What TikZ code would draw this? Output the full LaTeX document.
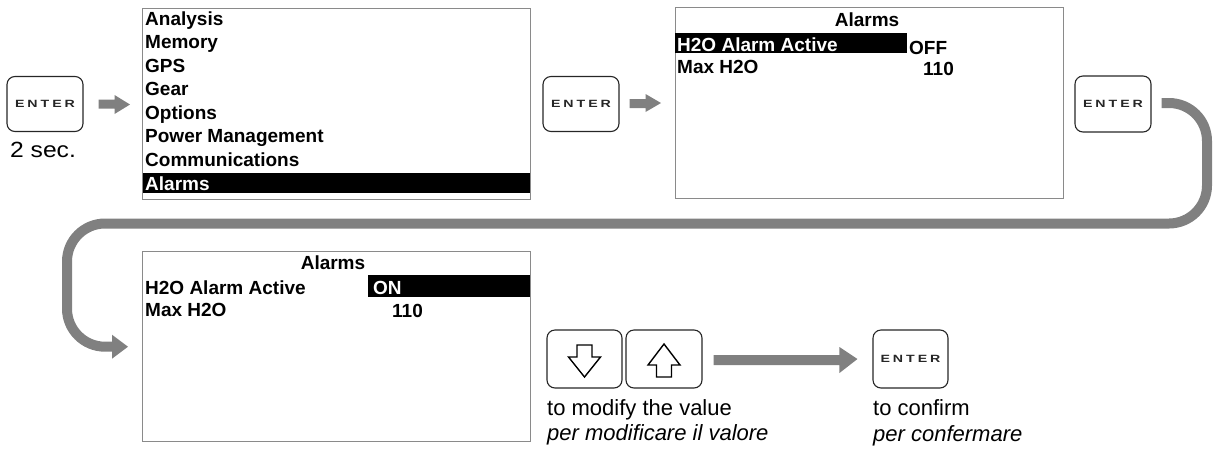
\documentclass[tikz,border=0pt]{standalone}
\usepackage{fontspec}
\setmainfont{Liberation Sans}
\newfontfamily\keyfont{Liberation Sans Bold}
\usetikzlibrary{calc}
\definecolor{arrowgray}{HTML}{808080}
\definecolor{framegray}{HTML}{8A8A8A}
\newcommand\enterlabel{\scalebox{1.35}[1]{\keyfont\fontsize{10.5}{11}\selectfont E\kern2.2pt N\kern2.2pt T\kern2.2pt E\kern2.2pt R}}
\begin{document}
\begin{tikzpicture}[x=1pt,y=-1pt,
  screen/.style={draw=framegray, line width=1.4pt, rectangle, inner sep=0pt, anchor=north west},
  key/.style={draw=black!85, line width=1.1pt, rounded corners=8pt, inner sep=0pt,
    minimum width=76, minimum height=55, text=black!85},
  menu/.style={font=\fontsize{19}{20}\selectfont\bfseries, inner sep=0pt, anchor=base west},
  menuinv/.style={menu, text=white},
  caption/.style={font=\fontsize{22}{24}\selectfont, inner sep=0pt, anchor=base west},
  captionit/.style={caption, font=\fontsize{22}{24}\selectfont\itshape},
  band/.style={draw=arrowgray, line width=10pt, rounded corners=38pt},
  blockarrow/.style={fill=arrowgray},
  hollow/.style={draw=black, line width=1.4pt, fill=white, line join=miter}
]
\useasboundingbox (0,0) rectangle (1213,448);

% ---------- top row ----------
\node[key] (k1) at (45,104) {\enterlabel};
\node[caption] (sec) at (10,157) {\scalebox{1.12}[1]{2 sec.}};

\node[screen, minimum width=388, minimum height=191] (m1) at (142,8) {};
\fill ($(m1.north west)+(1,165)$) rectangle ($(m1.north east)+(-1,185)$);
\node[menu] (a1) at (145,25) {Analysis};
\node[menu] (a2) at (145,48.6) {Memory};
\node[menu] (a3) at (145,72.1) {GPS};
\node[menu] (a4) at (145,95.7) {Gear};
\node[menu] (a5) at (145,119.3) {Options};
\node[menu] (a6) at (145,142.9) {Power Management};
\node[menu] (a7) at (145,166.4) {Communications};
\node[menuinv] (a8) at (145,190) {Alarms};

\node[key] (k2) at (581,104) {\enterlabel};

\node[screen, minimum width=388, minimum height=191] (s2) at (675,7) {};
\fill ($(s2.north west)+(0,26)$) rectangle ($(s2.north west)+(232,46)$);
\node[menu, anchor=base] (s2t) at (867,26.7) {Alarms};
\node[menuinv] (s2a) at (677,51.7) {H2O Alarm Active};
\node[menu] (s2b) at (909,54.3) {OFF};
\node[menu] (s2c) at (677,73.3) {Max H2O};
\node[menu] (s2d) at (923,75) {110};

\node[key, minimum height=56] (k3) at (1113,104) {\enterlabel};

% ---------- bottom row ----------
\node[screen, minimum width=388, minimum height=190] (s3) at (142,251) {};
\fill ($(s3.north west)+(226,24)$) rectangle ($(s3.north east)+(-1,46)$);
\node[menu, anchor=base] (s3t) at (333,269.3) {Alarms};
\node[menu] (s3a) at (145,294) {H2O Alarm Active};
\node[menuinv] (s3b) at (373,294) {ON};
\node[menu] (s3c) at (145,316.7) {Max H2O};
\node[menu] (s3d) at (392,317) {110};

\node[key, minimum width=75, minimum height=58] (kd) at (584.5,359) {};
\node[key, minimum width=76, minimum height=58] (ku) at (664,359) {};
\node[key, minimum width=75, minimum height=58] (k4) at (910.5,359) {\enterlabel};

\draw[hollow] ($(kd.center)+(-7.5,-14)$) -- ($(kd.center)+(7.5,-14)$) -- ($(kd.center)+(7.5,-2)$)
  -- ($(kd.center)+(16,-2)$) -- ($(kd.center)+(0,18)$) -- ($(kd.center)+(-16,-2)$)
  -- ($(kd.center)+(-7.5,-2)$) -- cycle;
\draw[hollow] ($(ku.center)+(0,-15)$) -- ($(ku.center)+(16,6)$) -- ($(ku.center)+(7.5,6)$)
  -- ($(ku.center)+(7.5,18)$) -- ($(ku.center)+(-7.5,18)$) -- ($(ku.center)+(-7.5,6)$)
  -- ($(ku.center)+(-16,6)$) -- cycle;

\node[caption] (c1) at (547,415) {to modify the value};
\node[captionit] (c2) at (547,440.7) {per modificare il valore};
\node[caption] (c3) at (873,415) {to confirm};
\node[captionit] (c4) at (873,441) {per confermare};

% ---------- connectors ----------
% k1 -> m1
\fill[blockarrow] ($(k1.east)+(15,-4.5)$) -- ($(k1.east)+(31,-4.5)$) -- ($(k1.east)+(31,-9)$)
  -- ($(m1.west |- k1.east)+(-12,0.5)$) -- ($(k1.east)+(31,10)$) -- ($(k1.east)+(31,4.5)$)
  -- ($(k1.east)+(15,4.5)$) -- cycle;
% k2 -> s2
\fill[blockarrow] ($(k2.east)+(10,-5)$) -- ($(k2.east)+(26,-5)$) -- ($(k2.east)+(26,-10)$)
  -- ($(s2.west |- k2.east)+(-14,-1)$) -- ($(k2.east)+(26,8)$) -- ($(k2.east)+(26,4)$)
  -- ($(k2.east)+(10,4)$) -- cycle;
% k3 -> s3 (curved band)
\coordinate (b0) at ($(k3.east)+(10,-1)$);
\coordinate (b1) at ($(s3.west)+(-29,0)$);
\draw[band] (b0) -- (1207,103) -- (1207,223.5) -- (67,223.5) -- (67,|- b1) -- (b1);
\fill[blockarrow] ($(b1)+(-1,-12)$) -- ($(s3.west)+(-14,0)$) -- ($(b1)+(-1,12)$) -- cycle;
% ku -> k4
\fill[blockarrow] ($(ku.east)+(11,-4)$) -- ($(k4.west)+(-33,-4)$) -- ($(k4.west)+(-33,-12)$)
  -- ($(k4.west)+(-15,0)$) -- ($(k4.west)+(-33,14)$) -- ($(k4.west)+(-33,6)$)
  -- ($(ku.east)+(11,6)$) -- cycle;
\end{tikzpicture}
\end{document}
